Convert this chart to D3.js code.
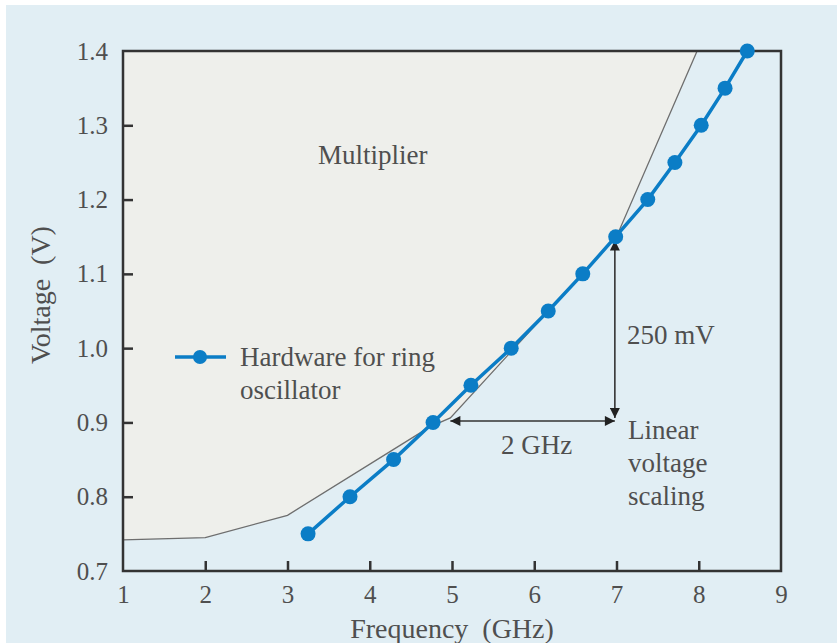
<!DOCTYPE html>
<html><head><meta charset="utf-8">
<script src="https://cdn.jsdelivr.net/npm/d3@7"></script>
<style>html,body{margin:0;padding:0;background:#fff;}svg{display:block;}</style>
</head><body>
<script>
// ---- data ----
const freqGHz = [3.25, 3.76, 4.29, 4.77, 5.23, 5.72, 6.17, 6.59, 6.99, 7.38, 7.71, 8.03, 8.32, 8.59];
const voltageV = [0.75, 0.80, 0.85, 0.90, 0.95, 1.00, 1.05, 1.10, 1.15, 1.20, 1.25, 1.30, 1.35, 1.40];
const boundaryFreq = [1, 2, 3, 4.28, 4.73, 4.98, 7.0, 7.98];
const boundaryVolt = [0.742, 0.745, 0.775, 0.863, 0.894, 0.906, 1.15, 1.40];
const xTicks = [1, 2, 3, 4, 5, 6, 7, 8, 9];
const yTicks = [0.7, 0.8, 0.9, 1.0, 1.1, 1.2, 1.3, 1.4];
const seriesName = ["Hardware for ring", "oscillator"];
const regionLabel = "Multiplier";
const hArrow = {f0: 4.98, f1: 6.98, v: 0.902, label: "2 GHz"};
const vArrow = {f: 6.98, v0: 1.145, v1: 0.906, label: "250 mV"};
const noteLines = ["Linear", "voltage", "scaling"];

// ---- layout ----
const W = 837, H = 643;
const mLeft = 123, mRight = 781, mTop = 51, mBottom = 571;
const BLUE = "#0b7dc6", TXT = "#4f4f4f", AX = "#333333";
const FONT = "'Liberation Serif', 'Times New Roman', serif";

const svg = d3.select("body").append("svg").attr("width", W).attr("height", H);
svg.append("rect").attr("x", 6).attr("y", 5).attr("width", W - 6).attr("height", H - 5).attr("fill", "#e1eef4");

const x = d3.scaleLinear().domain([1, 9]).range([mLeft, mRight]);
const y = d3.scaleLinear().domain([0.7, 1.4]).range([mBottom, mTop]);

const defs = svg.append("defs");
defs.append("clipPath").attr("id", "plot").append("rect")
  .attr("x", mLeft).attr("y", mTop).attr("width", mRight - mLeft).attr("height", mBottom - mTop);
defs.append("marker").attr("id", "arr").attr("viewBox", "0 0 10 10").attr("refX", 10).attr("refY", 5)
  .attr("markerWidth", 14).attr("markerHeight", 10).attr("markerUnits", "userSpaceOnUse").attr("orient", "auto-start-reverse")
  .append("path").attr("d", "M0,0 L10,5 L0,10 Z").attr("fill", "#222");

const bnd = boundaryFreq.map((f, i) => [f, boundaryVolt[i]]);
const lineGen = d3.line().x(d => x(d[0])).y(d => y(d[1]));
const g = svg.append("g").attr("clip-path", "url(#plot)");
g.append("path")
  .attr("d", lineGen([[1, 1.5], ...bnd, [bnd[bnd.length - 1][0], 1.5]]) + "Z")
  .attr("fill", "#eeefeb");
g.append("path").attr("d", lineGen(bnd))
  .attr("fill", "none").attr("stroke", "#6e6e6e").attr("stroke-width", 1.3);

// annotations
svg.append("line").attr("x1", x(hArrow.f0)).attr("x2", x(hArrow.f1)).attr("y1", y(hArrow.v)).attr("y2", y(hArrow.v))
  .attr("stroke", "#333").attr("stroke-width", 1.6).attr("marker-start", "url(#arr)").attr("marker-end", "url(#arr)");
svg.append("line").attr("x1", x(vArrow.f)).attr("x2", x(vArrow.f)).attr("y1", y(vArrow.v0)).attr("y2", y(vArrow.v1))
  .attr("stroke", "#333").attr("stroke-width", 1.6).attr("marker-start", "url(#arr)").attr("marker-end", "url(#arr)");

const txt = (s, px, py, anchor = "start", size = 27) => svg.append("text").attr("x", px).attr("y", py)
  .attr("text-anchor", anchor).attr("dominant-baseline", "central").attr("font-family", FONT)
  .attr("font-size", size).attr("fill", TXT).style("white-space", "pre").text(s);

txt(hArrow.label, (x(hArrow.f0) + x(hArrow.f1)) / 2 + 4, 445, "middle");
txt(vArrow.label, 627, 335);
noteLines.forEach((s, i) => txt(s, 628, 430 + i * 33));
txt(regionLabel, 318, 155);

// legend
svg.append("line").attr("x1", 175).attr("x2", 226).attr("y1", 357).attr("y2", 357).attr("stroke", BLUE).attr("stroke-width", 3.5);
svg.append("circle").attr("cx", 200).attr("cy", 357).attr("r", 7).attr("fill", BLUE);
seriesName.forEach((s, i) => txt(s, 240, 357 + i * 33));

// axes frame
svg.append("rect").attr("x", mLeft).attr("y", mTop).attr("width", mRight - mLeft).attr("height", mBottom - mTop)
  .attr("fill", "none").attr("stroke", AX).attr("stroke-width", 2.5);
const xAxis = d3.axisBottom(x).tickValues(xTicks).tickSize(-10).tickPadding(14).tickFormat(d3.format("d"));
const yAxis = d3.axisLeft(y).tickValues(yTicks).tickSize(-10).tickPadding(15).tickFormat(d3.format(".1f"));
const gx = svg.append("g").attr("transform", `translate(0,${mBottom})`).call(xAxis);
const gy = svg.append("g").attr("transform", `translate(${mLeft},0)`).call(yAxis);
[gx, gy].forEach(a => {
  a.select(".domain").remove();
  a.selectAll(".tick line").attr("stroke", AX).attr("stroke-width", 2.5);
  a.selectAll(".tick text").attr("font-family", FONT).attr("font-size", 25).attr("fill", TXT);
});
gx.selectAll(".tick line").filter(d => d === 1 || d === 9).remove();
gy.selectAll(".tick line").filter(d => d === 0.7 || d === 1.4).remove();

txt("Frequency  (GHz)", 452, 628, "middle", 28);
svg.append("text").attr("transform", "translate(40,295) rotate(-90)").attr("text-anchor", "middle")
  .attr("dominant-baseline", "central").attr("font-family", FONT).attr("font-size", 28).attr("fill", TXT)
  .style("white-space", "pre").text("Voltage  (V)");

// data series
const pts = freqGHz.map((f, i) => [f, voltageV[i]]);
svg.append("path").attr("d", lineGen(pts))
  .attr("fill", "none").attr("stroke", BLUE).attr("stroke-width", 3.5);
svg.selectAll("circle.pt").data(pts).join("circle").attr("class", "pt")
  .attr("cx", d => x(d[0])).attr("cy", d => y(d[1])).attr("r", 7.5).attr("fill", BLUE);
</script>
</body></html>
